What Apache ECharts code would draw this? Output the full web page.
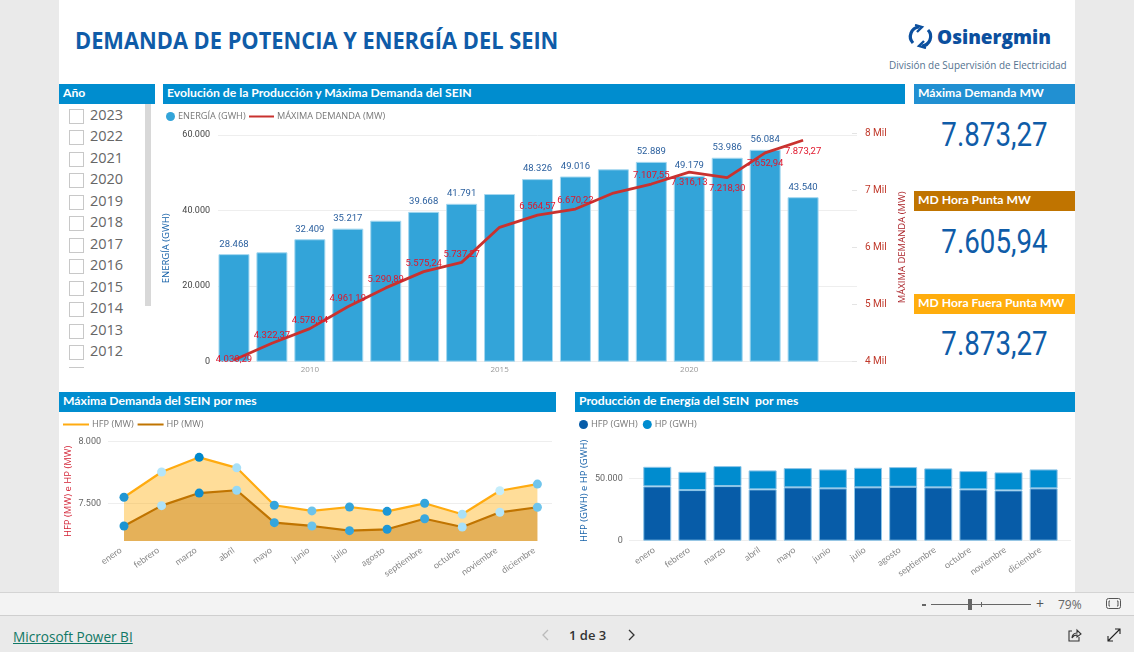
<!DOCTYPE html>
<html><head><meta charset="utf-8">
<script src="https://cdn.jsdelivr.net/npm/echarts@6/dist/echarts.min.js"></script>
<style>
html,body{margin:0;padding:0;width:1134px;height:652px;overflow:hidden;background:#eaeaea;font-family:"Open Sans",sans-serif}
.a{position:absolute;white-space:nowrap}
.hd{position:absolute;height:20px;line-height:18px;color:#fff;font-weight:700;font-size:12.2px;padding-left:4px;box-sizing:border-box;background:#008dcf;font-family:Lato,sans-serif}
.num{position:absolute;left:914px;width:161px;text-align:center;font-family:Roboto,sans-serif;font-size:33px;color:#0f5ca8;line-height:40px;transform:scaleX(.84)}
.it{position:absolute;left:69px;height:20px}
.it i{position:absolute;left:0;top:2px;width:13px;height:13px;border:1px solid #c8c8c8;background:#fff}
.it span{position:absolute;left:21px;top:-3px;font-size:14.5px;color:#666;line-height:22px;font-family:"Open Sans",sans-serif}
#c{position:absolute;left:0;top:0;width:1134px;height:652px}
</style></head><body>
<div class="a" style="left:59px;top:0;width:1016px;height:592px;background:#fff"></div>
<div class="a" style="left:0;top:592px;width:1134px;height:24px;background:#f3f3f3;border-top:1px solid #d4d4d4;border-bottom:1px solid #cfcfcf;box-sizing:border-box"></div>
<div class="a" id="title" style="left:75px;top:24px;font-size:23.2px;font-weight:700;color:#0f5ca8;line-height:32px;transform:scaleX(.941);transform-origin:left center">DEMANDA DE POTENCIA Y ENERGÍA DEL SEIN</div>
<svg class="a" style="left:907px;top:24px" width="27" height="25" viewBox="0 0 27 25" fill="none" stroke="#0b4f9e" stroke-width="3.2">
<path d="M6 19A9.5 9.5 0 0 1 12 3"/><path d="M8 1L15 3L10 8" stroke-width="2.4"/><path d="M21 6A9.5 9.5 0 0 1 15 22"/><path d="M19 24L12 22L17 17" stroke-width="2.4"/></svg>
<div class="a" style="left:937px;top:23px;font-size:19px;font-weight:800;color:#0b4f9e;line-height:28px;font-family:'Open Sans',sans-serif">Osinergmin</div>
<div class="a" style="left:889px;top:57px;font-size:9.95px;color:#54728f;line-height:16px">División de Supervisión de Electricidad</div>

<div class="hd" style="left:59px;top:84px;width:96px">Año</div>
<div class="hd" style="left:163px;top:84px;width:742px">Evolución de la Producción y Máxima Demanda del SEIN</div>
<div class="hd" style="left:914px;top:84px;width:161px;background:#2190d2">Máxima Demanda MW</div>
<div class="hd" style="left:914px;top:191px;width:161px;background:#c07400">MD Hora Punta MW</div>
<div class="hd" style="left:914px;top:294px;width:161px;background:#ffad0d">MD Hora Fuera Punta MW</div>
<div class="hd" style="left:59px;top:392px;width:497px">Máxima Demanda del SEIN por mes</div>
<div class="hd" style="left:575px;top:392px;width:500px">Producción de Energía del SEIN&nbsp; por mes</div>
<div id="kpis"></div>
<div class="a" id="slicer" style="left:0;top:0;width:145px;height:368px;overflow:hidden"></div>
<div class="a" style="left:145px;top:104px;width:6px;height:202px;background:#d8d8d8"></div>

<div class="a" style="left:922px;top:604px;width:4px;height:2px;background:#666"></div>
<div class="a" style="left:931px;top:604px;width:100px;height:1px;background:#666"></div>
<div class="a" style="left:968px;top:599px;width:4px;height:11px;background:#666"></div>
<div class="a" style="left:981px;top:602px;width:1px;height:5px;background:#666"></div>
<div class="a" style="left:1036px;top:595px;font-size:14px;color:#555;line-height:18px">+</div>
<div class="a" style="left:1058px;top:596px;font-size:12px;color:#666;line-height:17px">79%</div>
<svg class="a" style="left:1106px;top:598px" width="15" height="12" fill="none" stroke="#555"><rect x=".5" y=".5" width="14" height="10" rx="2"/><path d="M4 3H3V8H4M11 3H12V8H11"/></svg>
<div class="a" style="left:13px;top:627px;font-size:13.6px;color:#117865;text-decoration:underline;line-height:19px">Microsoft Power BI</div>
<div class="a" style="left:569px;top:626px;font-size:13px;font-weight:600;color:#333;line-height:18px">1 de 3</div>
<svg class="a" style="left:541px;top:629px" width="10" height="12" fill="none" stroke="#bbb" stroke-width="1.3"><path d="M7 1L2 6L7 11"/></svg>
<svg class="a" style="left:626px;top:629px" width="10" height="12" fill="none" stroke="#333" stroke-width="1.3"><path d="M3 1L8 6L3 11"/></svg>
<svg class="a" style="left:1067px;top:628px" width="15" height="15" fill="none" stroke="#333" stroke-width="1.1"><path d="M5 3H2V13H12V9"/><path d="M5 10C5 7 7 5 10 5V2L14 6L10 9V7C8 7 6 8 5 10Z"/></svg>
<svg class="a" style="left:1107px;top:628px" width="14" height="14" fill="none" stroke="#222" stroke-width="1.1"><path d="M1 13L13 1M8 1H13V6M1 8V13H6"/></svg>
<div id="c"></div>
<script>
// ---- values ----
const years = ['2008','2009','2010','2011','2012','2013','2014','2015','2016','2017','2018','2019','2020','2021','2022','2023'];
const energia = [28468,28954,32409,35217,37320,39668,41791,44380,48326,49016,50920,52889,49179,53986,56084,43540];
const maxDemanda = [4030.29,4322.37,4578.94,4961.19,5290.89,5575.24,5737.27,6350,6564.57,6670.22,6950,7107.55,7316.13,7218.30,7652.94,7873.27];
const energiaSinEtiqueta = ['2009','2012','2015','2018'];
const demandaSinEtiqueta = ['2015','2018'];
const demandaEtiquetaAbajo = ['2020','2021','2022','2023'];
const meses = ['enero','febrero','marzo','abril','mayo','junio','julio','agosto','septiembre','octubre','noviembre','diciembre'];
const hfpMW = [7549,7754,7873,7788,7484,7438,7470,7435,7500,7411,7602,7656];
const hpMW = [7316,7481,7583,7606,7343,7316,7278,7289,7375,7308,7427,7468];
const hfpGWh = [43590,40620,43830,41180,42790,41990,42790,43270,42790,41180,40380,41990];
const hpGWh = [15710,14670,16030,15220,15460,15210,15700,15780,15220,14670,14430,15210];
const hfpMarker = ['#2196d3','#b3e5fa','#0088cc','#a8e0f8','#34a5dc','#6cc3ea','#34a5dc','#1c97d6','#34a5dc','#a8e0f8','#c4edfb','#70c5ec'];
const hpMarker = ['#1c94d2','#aee2f8','#0e8dcf','#95d8f4','#34a5dc','#6cc3ea','#34a5dc','#1c97d6','#3aa8de','#a8e0f8','#b3e5fa','#70c5ec'];
const anios = ['2023','2022','2021','2020','2019','2018','2017','2016','2015','2014','2013','2012','2011'];
const kpis = ['7.873,27','7.605,94','7.873,27'];

// ---- chrome built from the lists ----
document.getElementById('slicer').innerHTML = anios.map((y,i)=>`<div class="it" style="top:${106.5+i*21.5}px"><i></i><span>${y}</span></div>`).join('');
document.getElementById('kpis').innerHTML = kpis.map((k,i)=>`<div class="num" style="top:${[115,222,324][i]}px">${k}</div>`).join('');

const DIN = 'Roboto,sans-serif', UI = '"Open Sans",sans-serif';
const es = v => String(v).replace(/\B(?=(\d{3})+(?!\d))/g,'.');
const es2 = v => { const [a,b]=v.toFixed(2).split('.'); return es(a)+','+b; };
const GRID = '#eeeeee';
const off = {show:false};
// helper: light grid lines span the full plot, the data bands sit inside it
const gridLines = (idx,min,max,interval,extra={}) => ({
  gridIndex:idx,type:'value',min,max,interval,
  axisLine:off,axisTick:off,axisLabel:off,
  splitLine:{show:true,lineStyle:{color:GRID,width:1}},...extra});
const hiddenX = idx => ({gridIndex:idx,type:'value',min:0,max:1,show:false});

const monthAxis = idx => ({gridIndex:idx,type:'category',data:meses,
  axisLine:off,axisTick:off,
  axisLabel:{interval:0,rotate:35,color:'#888',fontSize:9,fontFamily:'Lato,sans-serif',margin:6,padding:[0,4,0,0]}});
const legendText = {color:'#777',fontSize:9.2,fontFamily:UI,padding:[0,0,0,-2]};

const option = {
  animation:false,
  legend:[
    {left:161,top:107,data:[{name:'ENERGÍA (GWH)',icon:'circle'}],itemWidth:9,itemHeight:9,itemGap:3,itemStyle:{borderWidth:0},textStyle:legendText},
    {left:244,top:107,data:[{name:'MÁXIMA DEMANDA (MW)',icon:'rect'}],itemWidth:25,itemHeight:2,textStyle:legendText},
    {left:58,top:415,data:[{name:'HFP (MW)',icon:'rect'},{name:'HP (MW)',icon:'rect'}],itemWidth:26,itemHeight:2,itemGap:4,textStyle:legendText},
    {left:574,top:415,data:[{name:'HFP (GWH)',icon:'circle'},{name:'HP (GWH)',icon:'circle'}],itemWidth:9,itemHeight:9,itemGap:5,itemStyle:{borderWidth:0},textStyle:legendText}
  ],
  grid:[
    {left:218,top:135,width:639,height:226.7},      // 0 lines main
    {left:215,top:135,width:645,height:226.7},      // 1 bars main
    {left:215,top:133,width:645,height:228.7},      // 2 line main
    {left:108,top:441.7,width:444,height:123.4},    // 3 lines+labels area
    {left:105.2,top:441.7,width:451,height:99.3},   // 4 area
    {left:629,top:441,width:442,height:99.7},       // 5 lines stacked
    {left:639.7,top:441,width:421.5,height:99.7}    // 6 stacked
  ],
  xAxis:[
    hiddenX(0),
    {gridIndex:1,type:'category',data:years,max:16,axisLine:off,axisTick:off,
      axisLabel:{interval:0,color:'#999',fontSize:8,fontFamily:UI,margin:4,
        formatter:v=>['2010','2015','2020'].includes(v)?v:''}},
    {gridIndex:2,type:'category',data:years,max:16,show:false},
    hiddenX(3),
    monthAxis(4),
    hiddenX(5),
    monthAxis(6)
  ],
  yAxis:[
    gridLines(0,0,60000,20000),
    {gridIndex:1,type:'value',min:0,max:60000,interval:20000,splitLine:off,axisLine:off,axisTick:off,
      axisLabel:{color:'#444',fontSize:9,fontFamily:DIN,margin:5,padding:[2,0,0,0],formatter:es},
      name:'ENERGÍA (GWH)',nameLocation:'middle',nameRotate:90,nameGap:24,
      nameTextStyle:{color:'#1560a8',fontSize:9.5,fontFamily:UI}},
    {gridIndex:2,type:'value',position:'right',offset:-3,min:4000,max:8000,interval:1000,splitLine:off,
      axisLine:off,axisTick:{show:true,inside:true,length:5,lineStyle:{color:'#e4e4e4'}},
      axisLabel:{color:'#c0392b',fontSize:10,fontFamily:DIN,margin:8,padding:[1,0,0,0],formatter:v=>(v/1000)+' Mil'},
      name:'MÁXIMA DEMANDA (MW)',nameLocation:'middle',nameRotate:90,nameGap:22,
      nameTextStyle:{color:'#a81e24',fontSize:9.5,fontFamily:UI}},
    gridLines(3,7000,8000,500,{
      axisLabel:{show:true,showMinLabel:false,color:'#666',fontSize:9,fontFamily:DIN,margin:7,formatter:es},
      splitLine:{show:true,showMinLine:false,lineStyle:{color:GRID}}}),
    {gridIndex:4,type:'value',min:7194,max:8000,splitLine:off,axisLine:off,axisTick:off,axisLabel:off,
      name:'HFP (MW) e HP (MW)',nameLocation:'middle',nameRotate:90,nameGap:32,
      nameTextStyle:{color:'#d21f32',fontSize:9.5,fontFamily:UI}},
    gridLines(5,0,80000,50000,{splitLine:{show:true,showMaxLine:false,lineStyle:{color:GRID}}}),
    {gridIndex:6,type:'value',min:0,max:80000,interval:50000,splitLine:off,axisLine:off,axisTick:off,
      axisLabel:{showMaxLabel:false,color:'#666',fontSize:9,fontFamily:DIN,margin:17,padding:[2,0,0,0],formatter:es},
      name:'HFP (GWH) e HP (GWH)',nameLocation:'middle',nameRotate:90,nameGap:50,
      nameTextStyle:{color:'#1560a8',fontSize:9.5,fontFamily:UI}}
  ],
  series:[
    {name:'ENERGÍA (GWH)',type:'bar',xAxisIndex:1,yAxisIndex:1,barWidth:31,color:'#33a4d9',
      itemStyle:{borderColor:'#a5d8f0',borderWidth:1},
      data:energia.map((v,i)=>({value:v,label:{show:!energiaSinEtiqueta.includes(years[i])}})),
      label:{position:'top',distance:5,color:'#2a5f9e',fontSize:9.5,fontFamily:DIN,formatter:p=>es(p.value)}},
    {name:'MÁXIMA DEMANDA (MW)',type:'line',xAxisIndex:2,yAxisIndex:2,color:'#c9322f',z:5,
      symbol:'circle',symbolSize:0,lineStyle:{width:2.8,color:'#c9322f'},
      data:maxDemanda.map((v,i)=>{
        const abajo=demandaEtiquetaAbajo.includes(years[i]);
        return {value:v,label:{
          show:!demandaSinEtiqueta.includes(years[i]),
          position:i===0?'inside':abajo?'bottom':'top',
          distance:abajo?6:3}};}),
      label:{color:'#e0162b',fontSize:9.5,fontFamily:DIN,formatter:p=>es2(p.value)}},
    {name:'HFP (MW)',type:'line',xAxisIndex:4,yAxisIndex:4,color:'#ffab10',symbol:'circle',symbolSize:9,
      lineStyle:{width:2.2,color:'#ffab10'},areaStyle:{color:'#ffab00',opacity:.4,origin:'start'},
      data:hfpMW.map((v,i)=>({value:v,itemStyle:{color:hfpMarker[i]}}))},
    {name:'HP (MW)',type:'line',xAxisIndex:4,yAxisIndex:4,color:'#c07400',symbol:'circle',symbolSize:9,
      lineStyle:{width:2.2,color:'#c07400'},areaStyle:{color:'#c07400',opacity:.42,origin:'start'},
      data:hpMW.map((v,i)=>({value:v,itemStyle:{color:hpMarker[i]}}))},
    {name:'HFP (GWH)',type:'bar',stack:'e',xAxisIndex:6,yAxisIndex:6,barWidth:28,color:'#075ca8',
      itemStyle:{borderColor:'#8cc5e8',borderWidth:1},data:hfpGWh},
    {name:'HP (GWH)',type:'bar',stack:'e',xAxisIndex:6,yAxisIndex:6,barWidth:28,color:'#008ccf',
      itemStyle:{borderColor:'#8cc5e8',borderWidth:1},data:hpGWh}
  ]
};
const chart = echarts.init(document.getElementById('c'),null,{renderer:'canvas'});
chart.setOption(option);
</script>
</body></html>
